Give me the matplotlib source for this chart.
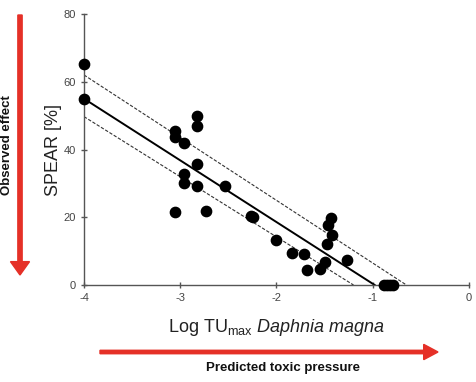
import matplotlib
matplotlib.use('Agg')
import matplotlib.pyplot as plt

plt.rcParams['font.family'] = ['Liberation Sans', 'DejaVu Sans']
plt.rcParams['axes.unicode_minus'] = False
plt.rcParams['mathtext.fontset'] = 'custom'
plt.rcParams['mathtext.rm'] = 'Liberation Sans'
plt.rcParams['mathtext.it'] = 'Liberation Sans:italic'

# Dados
log_tu = [-4.0, -4.0, -3.05, -3.05, -2.96, -2.96, -2.96, -3.05, -2.83, -2.83,
          -2.83, -2.83, -2.73, -2.53, -2.26, -2.24, -2.01, -1.84, -1.71, -1.68,
          -1.55, -1.50, -1.48, -1.47, -1.43, -1.42, -1.27, -0.88, -0.85, -0.82, -0.79]
spear = [65.2, 55.0, 45.5, 43.8, 42.0, 32.9, 30.1, 21.6, 50.0, 46.9,
         35.8, 29.2, 21.8, 29.1, 20.4, 20.0, 13.2, 9.5, 9.1, 4.4,
         4.8, 6.8, 12.0, 17.8, 19.9, 14.8, 7.5, 0.0, 0.0, 0.0, 0.0]

# Reta de regressão e bandas de confiança
fit_x = [-4.0, -0.98]
fit_y = [55.0, 0.0]
upper_x = [-4.0, -0.65]
upper_y = [62.0, 0.0]
lower_x = [-4.0, -1.20]
lower_y = [49.7, 0.0]

x_ticks = [-4, -3, -2, -1, 0]
y_ticks = [0, 20, 40, 60, 80]

fig = plt.figure(figsize=(4.77, 3.82), dpi=100)
ax = fig.add_axes([84 / 477, 1 - 285 / 382, 385 / 477, 271 / 382])

ax.plot(upper_x, upper_y, color='#333333', lw=0.8, ls=(0, (3, 1.5)))
ax.plot(lower_x, lower_y, color='#333333', lw=0.8, ls=(0, (3, 1.5)))
ax.plot(fit_x, fit_y, color='black', lw=1.4)
ax.scatter(log_tu, spear, s=55, color='black', zorder=3, clip_on=False)

ax.set_xlim(-4, 0)
ax.set_ylim(0, 80)
ax.set_xticks(x_ticks)
ax.set_yticks(y_ticks)
for s in ['top', 'right']:
    ax.spines[s].set_visible(False)
for s in ['left', 'bottom']:
    ax.spines[s].set_color('#555555')
    ax.spines[s].set_linewidth(1.0)
ax.tick_params(direction='inout', length=5, width=1, color='#555555',
               labelsize=8, labelcolor='#444444')

ax.set_ylabel('SPEAR [%]', fontsize=13, color='#222222', labelpad=1)
ax.set_xlabel(r'Log TU$_{\mathregular{max}}$ $\it{Daphnia\ magna}$',
              fontsize=13, color='#222222', labelpad=10)

# Setas vermelhas
fig.patches.append(matplotlib.patches.FancyArrow(
    100 / 477, 1 - 352 / 382, 338 / 477, 0, width=0.009,
    head_width=0.04, head_length=0.03, length_includes_head=True,
    color='#e53027', transform=fig.transFigure, figure=fig))
fig.patches.append(matplotlib.patches.FancyArrow(
    20 / 477, 1 - 15 / 382, 0, -260 / 382, width=0.009,
    head_width=0.04, head_length=0.035, length_includes_head=True,
    color='#e53027', transform=fig.transFigure, figure=fig))

fig.text(283 / 477, 1 - 368 / 382, 'Predicted toxic pressure', fontsize=9.5,
         fontweight='bold', ha='center', va='center', color='#111111')
fig.text(7 / 477, 1 - 145 / 382, 'Observed effect', fontsize=9.5,
         fontweight='bold', ha='center', va='center', rotation=90,
         color='#111111')

fig.savefig('out.png', dpi=100)
